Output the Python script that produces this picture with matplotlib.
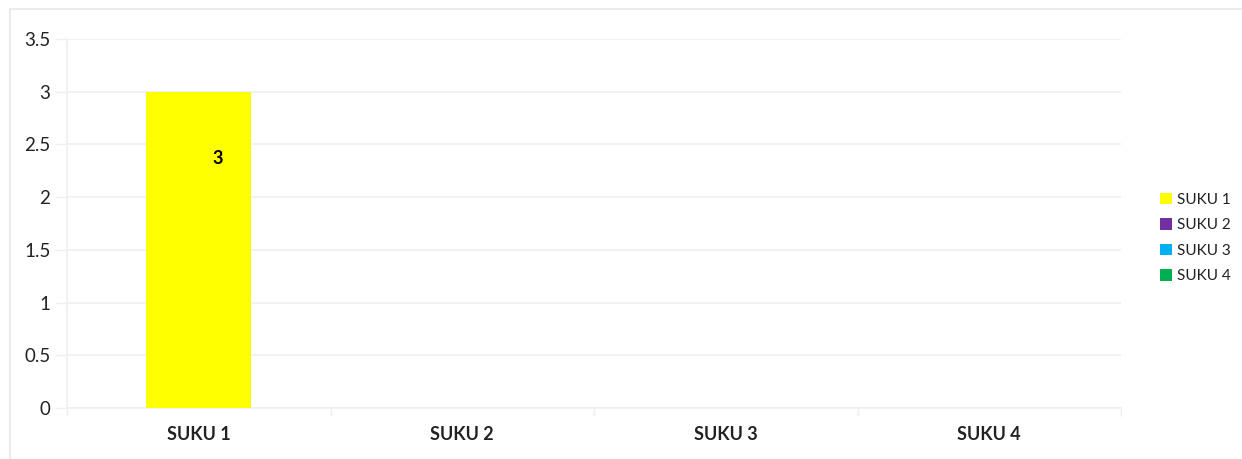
import matplotlib
matplotlib.use("Agg")
import matplotlib.pyplot as plt
from matplotlib.lines import Line2D

categories = ["SUKU 1", "SUKU 2", "SUKU 3", "SUKU 4"]
series_names = ["SUKU 1", "SUKU 2", "SUKU 3", "SUKU 4"]
series_colors = ["#FFFF00", "#7030A0", "#00B0F0", "#00B050"]
values = [3, 0, 0, 0]          # value of series i in category i
y_ticks = [0, 0.5, 1, 1.5, 2, 2.5, 3, 3.5]
y_tick_labels = ["0", "0.5", "1", "1.5", "2", "2.5", "3", "3.5"]

plt.rcParams['font.family'] = ['Lato', 'DejaVu Sans']
grid_c = "#EFEFEF"

fig = plt.figure(figsize=(12.42, 4.59), dpi=100)
ax = fig.add_axes([67/1242, 51/459, (1121-67)/1242, (408-39)/459])

handles = []
for i, (name, col, v) in enumerate(zip(series_names, series_colors, values)):
    b = ax.bar(i, v, width=0.4, color=col, label=name, zorder=3)
    handles.append(b)
    if v:
        ax.text(i + 0.072, v * 0.79, f"{v:g}", ha="center", va="center",
                fontsize=13, fontweight="bold", color="black", zorder=4)

ax.set_xlim(-0.5, len(categories) - 0.5)
ax.set_ylim(0, 3.5)
ax.set_yticks(y_ticks)
ax.set_yticklabels(y_tick_labels, fontsize=13.5, color="#222222")
ax.set_xticks(range(len(categories)))
ax.set_xticklabels(categories, fontsize=13, fontweight="bold", color="#222222")
ax.tick_params(axis="x", length=0, pad=13)
ax.tick_params(axis="y", length=9, width=1, color=grid_c, pad=3)
# category boundary ticks
ax.set_xticks([i - 0.5 for i in range(len(categories) + 1)], minor=True)
ax.tick_params(axis="x", which="minor", length=6, width=1, color=grid_c)

ax.grid(axis="y", color=grid_c, linewidth=1.2, zorder=0)
for s in ["top", "right"]:
    ax.spines[s].set_visible(False)
for s in ["left", "bottom"]:
    ax.spines[s].set_color(grid_c)
    ax.spines[s].set_linewidth(1.2)

leg = fig.legend(handles=handles, labels=series_names, loc="center left",
                 bbox_to_anchor=(1146/1242, 1 - 238/459), frameon=False,
                 fontsize=11, handlelength=0.8, handleheight=0.8,
                 handletextpad=0.35, labelspacing=0.75)
for t in leg.get_texts():
    t.set_color("#222222")

# faint outer frame
fig.add_artist(Line2D([10/1242, 1], [1 - 9/459, 1 - 9/459], color="#EBEBEB", lw=1.5))
fig.add_artist(Line2D([10/1242, 10/1242], [0, 1 - 9/459], color="#EBEBEB", lw=1.5))

fig.savefig("out.png", dpi=100, facecolor="white")
